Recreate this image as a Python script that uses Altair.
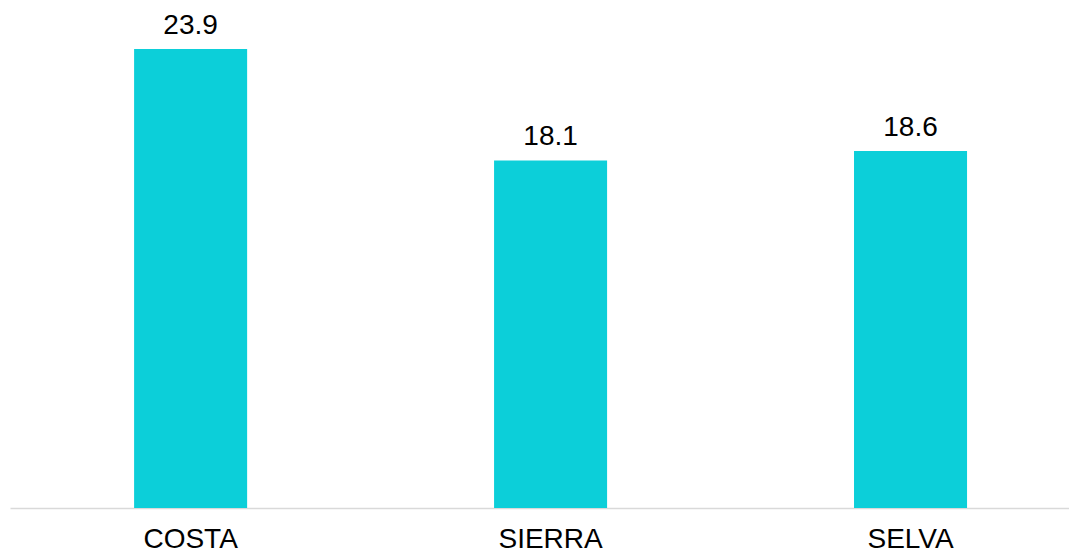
import altair as alt
import pandas as pd

regions = ["COSTA", "SIERRA", "SELVA"]
values = [23.9, 18.1, 18.6]
labels = ["23.9", "18.1", "18.6"]

df = pd.DataFrame({"region": regions, "value": values, "label": labels})

FONT = "Liberation Sans"

x = alt.X(
    "region:N",
    sort=regions,
    title=None,
    scale=alt.Scale(paddingInner=0.686, paddingOuter=0.314, align=0.549),
    axis=alt.Axis(
        labelAngle=0,
        labelFont=FONT,
        labelFontSize=28,
        labelColor="#000000",
        labelPadding=17,
        ticks=False,
        domainColor="#d9d9d9",
        domainWidth=1.5,
        grid=False,
    ),
)
y = alt.Y("value:Q", scale=alt.Scale(domain=[0, 25]), axis=None)

bars = alt.Chart(df).mark_bar(color="#0ccfd9").encode(x=x, y=y)
text = alt.Chart(df).mark_text(
    font=FONT, fontSize=28, color="#000000", baseline="alphabetic", dy=-15
).encode(x=x, y=y, text="label:N")

chart = (
    alt.layer(bars, text)
    .properties(
        width=1059,
        height=480,
        padding={"left": 2, "top": 20, "right": 0, "bottom": 45},
        autosize=alt.AutoSizeParams(type="none"),
    )
    .configure_view(stroke=None)
)

chart.save("out.html", embed_options={"renderer": "svg", "actions": False})
